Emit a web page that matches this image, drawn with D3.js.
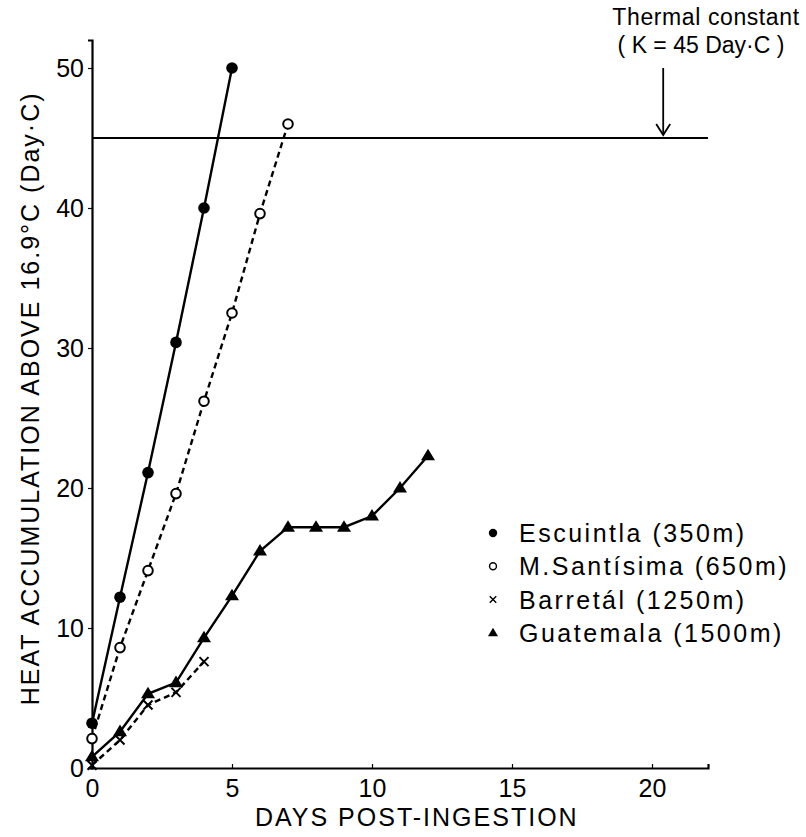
<!DOCTYPE html>
<html>
<head>
<meta charset="utf-8">
<script src="https://cdn.jsdelivr.net/npm/d3@7"></script>
<style>
  body { margin: 0; background: #fff; }
  svg text { font-family: "Liberation Sans", "DejaVu Sans", sans-serif; fill: #000; }
</style>
</head>
<body>
<div id="chart"></div>
<script>
// data
const escuintlaDays = [0, 1, 2, 3, 4, 5];
const escuintlaHeat = [3.2, 12.2, 21.1, 30.4, 40.0, 50.0];

const santisimaDays = [0, 1, 2, 3, 4, 5, 6, 7];
const santisimaHeat = [2.1, 8.6, 14.1, 19.6, 26.2, 32.5, 39.6, 46.0];

const barretalDays = [0, 1, 2, 3, 4];
const barretalHeat = [0.2, 2.0, 4.5, 5.4, 7.6];

const guatemalaDays = [0, 1, 2, 3, 4, 5, 6, 7, 8, 9, 10, 11, 12];
const guatemalaHeat = [0.8, 2.6, 5.3, 6.1, 9.3, 12.3, 15.5, 17.2, 17.2, 17.2, 18.0, 20.0, 22.3];

const thermalConstant = 45;
const arrowDay = 20.4;

const xTicks = [0, 5, 10, 15, 20];
const yTicks = [0, 10, 20, 30, 40, 50];

const legendLabels = ['Escuintla (350m)', 'M.Santísima (650m)', 'Barretál (1250m)', 'Guatemala (1500m)'];

const width = 806, height = 837;
const margin = { top: 40, right: 100, bottom: 69, left: 92 };

const svg = d3.select('#chart').append('svg')
  .attr('width', width)
  .attr('height', height);

const x = d3.scaleLinear().domain([0, 22]).range([margin.left, margin.left + 22 * 28]);
const y = d3.scaleLinear().domain([0, 52]).range([height - margin.bottom, height - margin.bottom - 52 * 14]);

// axes
const xAxis = svg.append('g')
  .attr('transform', `translate(0,${y(0)})`)
  .call(d3.axisBottom(x).tickValues(xTicks).tickSize(-4).tickPadding(9).tickFormat(d3.format('d')));
const yAxis = svg.append('g')
  .attr('transform', `translate(${x(0)},0)`)
  .call(d3.axisLeft(y).tickValues(yTicks).tickSize(4).tickPadding(4).tickFormat(d3.format('d')));

[xAxis, yAxis].forEach(a => {
  a.select('.domain').attr('stroke', '#000').attr('stroke-width', 2.2);
  a.selectAll('.tick line').attr('stroke', '#000').attr('stroke-width', 1.2);
  a.selectAll('.tick text').attr('font-size', 25).attr('fill', '#000');
});
xAxis.selectAll('.tick text').attr('dy', '0.8em');

svg.append('text')
  .attr('x', x(11.6))
  .attr('y', 826)
  .attr('text-anchor', 'middle')
  .attr('font-size', 25)
  .attr('letter-spacing', 2)
  .text('DAYS POST-INGESTION');

svg.append('text')
  .attr('transform', `translate(39,${y(26.4)}) rotate(-90)`)
  .attr('text-anchor', 'middle')
  .attr('font-size', 25)
  .attr('letter-spacing', 2)
  .text('HEAT ACCUMULATION ABOVE 16.9°C (Day·C)');

// thermal constant line and note
svg.append('line')
  .attr('x1', x(0)).attr('x2', x(22))
  .attr('y1', y(thermalConstant)).attr('y2', y(thermalConstant))
  .attr('stroke', '#000').attr('stroke-width', 2);

svg.append('line')
  .attr('x1', x(arrowDay)).attr('x2', x(arrowDay))
  .attr('y1', 68).attr('y2', y(thermalConstant) - 3)
  .attr('stroke', '#000').attr('stroke-width', 1.8);
svg.append('path')
  .attr('d', `M${x(arrowDay) - 7},${y(thermalConstant) - 14} L${x(arrowDay)},${y(thermalConstant) - 3} L${x(arrowDay) + 7},${y(thermalConstant) - 14}`)
  .attr('fill', 'none').attr('stroke', '#000').attr('stroke-width', 1.8);

svg.append('text')
  .attr('x', 706).attr('y', 25)
  .attr('text-anchor', 'middle')
  .attr('font-size', 23)
  .attr('letter-spacing', 0.6)
  .text('Thermal constant');
svg.append('text')
  .attr('x', 701).attr('y', 53)
  .attr('text-anchor', 'middle')
  .attr('font-size', 23)
  .attr('xml:space', 'preserve')
  .text('( K = 45 Day·C )');

// series
const series = [
  { days: escuintlaDays, heat: escuintlaHeat, dash: null, marker: 'dot' },
  { days: santisimaDays, heat: santisimaHeat, dash: '6,4', marker: 'ring' },
  { days: barretalDays, heat: barretalHeat, dash: '6,4', marker: 'cross' },
  { days: guatemalaDays, heat: guatemalaHeat, dash: null, marker: 'tri' }
];

const line = d3.line().x(d => x(d[0])).y(d => y(d[1]));

function drawMarker(g, kind, cx, cy, scale) {
  const s = scale || 1;
  if (kind === 'dot') {
    g.append('circle').attr('cx', cx).attr('cy', cy).attr('r', 5.8 * s).attr('fill', '#000');
  } else if (kind === 'ring') {
    g.append('circle').attr('cx', cx).attr('cy', cy).attr('r', 4.8 * s)
      .attr('fill', '#fff').attr('stroke', '#000').attr('stroke-width', 2 * s);
  } else if (kind === 'cross') {
    const r = 4.5 * s;
    g.append('path')
      .attr('d', `M${cx - r},${cy - r}L${cx + r},${cy + r}M${cx - r},${cy + r}L${cx + r},${cy - r}`)
      .attr('stroke', '#000').attr('stroke-width', 2 * s);
  } else if (kind === 'tri') {
    const r = 7 * s;
    g.append('path')
      .attr('d', `M${cx},${cy - r}L${cx + r},${cy + r * 0.65}L${cx - r},${cy + r * 0.65}Z`)
      .attr('fill', '#000');
  }
}

series.forEach(sr => {
  const pts = sr.days.map((d, i) => [d, sr.heat[i]]);
  svg.append('path')
    .datum(pts)
    .attr('d', line)
    .attr('fill', 'none')
    .attr('stroke', '#000')
    .attr('stroke-width', 2.4)
    .attr('stroke-dasharray', sr.dash);
  const g = svg.append('g');
  pts.forEach(p => drawMarker(g, sr.marker, x(p[0]), y(p[1])));
});

// legend
const legend = svg.append('g');
legendLabels.forEach((label, i) => {
  const ly = 533 + i * 33.3;
  drawMarker(legend, series[i].marker, 493, ly, 0.72);
  legend.append('text')
    .attr('x', 519).attr('y', ly)
    .attr('dy', '0.36em')
    .attr('font-size', 25)
    .attr('letter-spacing', 2.5)
    .text(label);
});
</script>
</body>
</html>
